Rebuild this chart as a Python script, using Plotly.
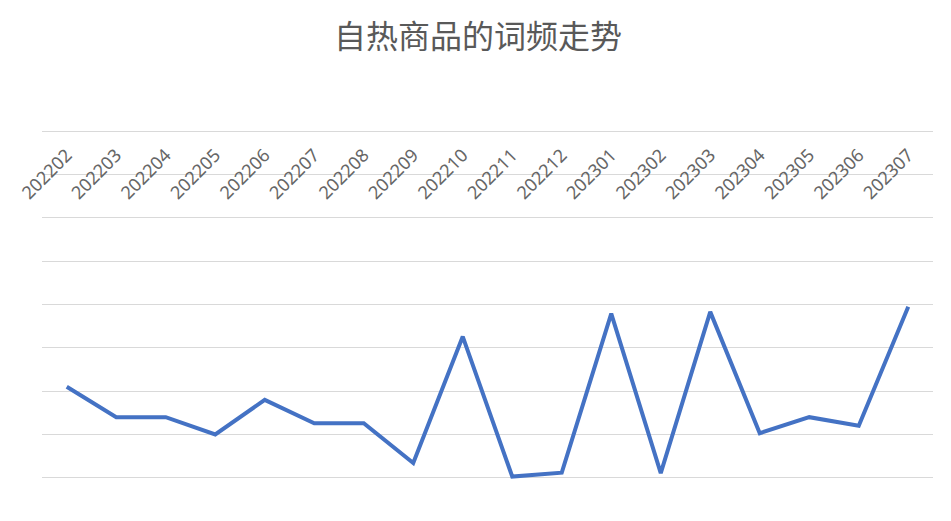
import plotly.graph_objects as go

months = ["202202", "202203", "202204", "202205", "202206", "202207", "202208", "202209",
          "202210", "202211", "202212", "202301", "202302", "202303", "202304", "202305",
          "202306", "202307"]
freq = [21, 14, 14, 10, 18, 12.6, 12.6, 3.4, 32.6, 0.3, 1.2, 37.9, 1.1, 38.3, 10.3, 14, 12, 39.5]

fig = go.Figure()
fig.add_trace(go.Scatter(
    x=months, y=freq, mode="lines",
    line=dict(color="#4472C4", width=4),
    hoverinfo="x+y", showlegend=False,
))

# page body has an 8px default margin; figure sized so the page fills the window
fig.update_layout(
    width=935, height=505,
    margin=dict(l=34, r=10, t=121, b=33),
    paper_bgcolor="white", plot_bgcolor="white",
    title=dict(text="自热商品的词频走势", x=0.5027, xanchor="center", y=0.9426, yanchor="middle",
               font=dict(family="Noto Sans CJK SC", size=32, color="#595959")),
    font=dict(family="Noto Sans CJK SC", color="#595959"),
    xaxis=dict(
        type="category", range=[-0.5, 17.5],
        anchor="free", position=0.968, side="bottom",
        tickangle=-45, showgrid=False, showline=False, zeroline=False,
        ticks="", tickfont=dict(size=18, color="#666666", family="Noto Sans"),
        automargin=False,
    ),
    yaxis=dict(
        range=[-0.5, 80.5], tick0=0, dtick=10, showgrid=True, gridcolor="#D9D9D9", gridwidth=1.3,
        zeroline=False, showline=False, showticklabels=False, ticks="",
        automargin=False,
    ),
)

fig.write_html("out.html")
